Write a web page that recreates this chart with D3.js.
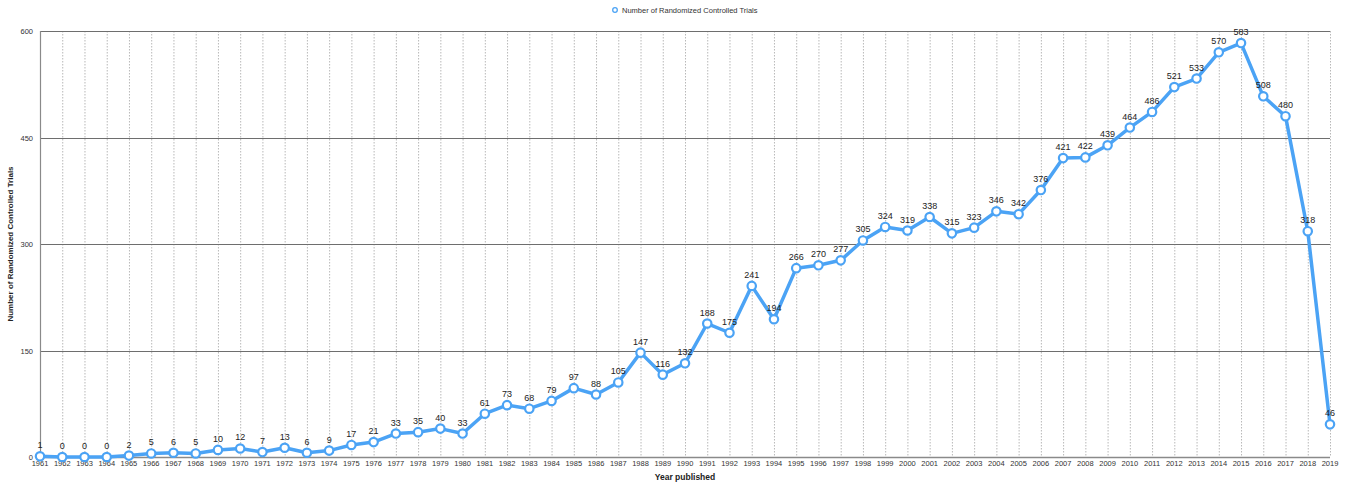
<!DOCTYPE html>
<html><head><meta charset="utf-8">
<script src="https://cdn.jsdelivr.net/npm/d3@7"></script>
<style>body{margin:0;background:#fff;font-family:"Liberation Sans",Arial,sans-serif;}</style>
</head><body><svg id="c" width="1349" height="485"></svg>
<script>
const years = d3.range(1961, 2020);
const values = [1,0,0,0,2,5,6,5,10,12,7,13,6,9,17,21,33,35,40,33,61,73,68,79,97,88,105,147,116,132,188,175,241,194,266,270,277,305,324,319,338,315,323,346,342,376,421,422,439,464,486,521,533,570,583,508,480,318,46];
const yTicks = [0,150,300,450,600];
const seriesName = "Number of Randomized Controlled Trials";
const xTitle = "Year published";
const yTitle = "Number of Randomized Controlled Trials";

const svg = d3.select("#c");
const L=40,R=1330,T=31,B=457;
const x = d3.scalePoint().domain(years).range([L,R]);
const y = d3.scaleLinear().domain([0,600]).range([B,T]);
const blue = "#4ba3f5";

// vertical dotted grid
svg.append("g").selectAll("line").data(years.slice(1)).join("line")
  .attr("x1",d=>x(d)+0.5).attr("x2",d=>x(d)+0.5).attr("y1",T).attr("y2",B)
  .attr("stroke","#b8b8b8").attr("stroke-width",1).attr("stroke-dasharray","1.5,1.5");
// horizontal grid
svg.append("g").selectAll("line").data(yTicks.slice(1)).join("line")
  .attr("x1",L).attr("x2",R).attr("y1",d=>Math.round(y(d))+0.5).attr("y2",d=>Math.round(y(d))+0.5)
  .attr("stroke","#6e6e6e").attr("stroke-width",1);
// axes lines
svg.append("line").attr("x1",L+0.5).attr("x2",L+0.5).attr("y1",T).attr("y2",B).attr("stroke","#8a8a8a").attr("stroke-width",1.2);
svg.append("line").attr("x1",L).attr("x2",R).attr("y1",B+0.5).attr("y2",B+0.5).attr("stroke","#8a8a8a").attr("stroke-width",1.5);

// y tick labels
svg.append("g").selectAll("text").data(yTicks).join("text")
  .attr("x",33).attr("y",d=>y(d)+3).attr("text-anchor","end")
  .attr("font-size",7.5).attr("fill","#333").text(d=>d);
// x tick labels
svg.append("g").selectAll("text").data(years).join("text")
  .attr("x",d=>x(d)).attr("y",466).attr("text-anchor","middle")
  .attr("font-size",7.5).attr("fill","#333").text(d=>d);

// titles
svg.append("text").attr("x",x(1990)).attr("y",480).attr("text-anchor","middle")
  .attr("font-size",8.5).attr("font-weight","bold").attr("fill","#222").text(xTitle);
svg.append("text").attr("transform",`translate(13,${(T+B)/2}) rotate(-90)`).attr("text-anchor","middle")
  .attr("font-size",8).attr("font-weight","bold").attr("fill","#222").text(yTitle);

// line
const data = years.map((d,i)=>({year:d,v:values[i]}));
svg.append("path").datum(data)
  .attr("d",d3.line().x(d=>x(d.year)).y(d=>y(d.v)))
  .attr("fill","none").attr("stroke",blue).attr("stroke-width",3.5).attr("stroke-linejoin","round");
svg.append("g").selectAll("circle").data(data).join("circle")
  .attr("cx",d=>x(d.year)).attr("cy",d=>y(d.v)).attr("r",4.2)
  .attr("fill","#fff").attr("stroke",blue).attr("stroke-width",2.2);
// value labels
svg.append("g").selectAll("text").data(data).join("text")
  .attr("x",d=>x(d.year)).attr("y",d=>y(d.v)-8).attr("text-anchor","middle")
  .attr("font-size",9).attr("fill","#222").text(d=>d.v);

// legend
svg.append("circle").attr("cx",615).attr("cy",10).attr("r",2.3).attr("fill","#fff").attr("stroke",blue).attr("stroke-width",1.3);
svg.append("text").attr("x",622).attr("y",12.5).attr("font-size",7.5).attr("fill","#333").text(seriesName);
</script></body></html>
